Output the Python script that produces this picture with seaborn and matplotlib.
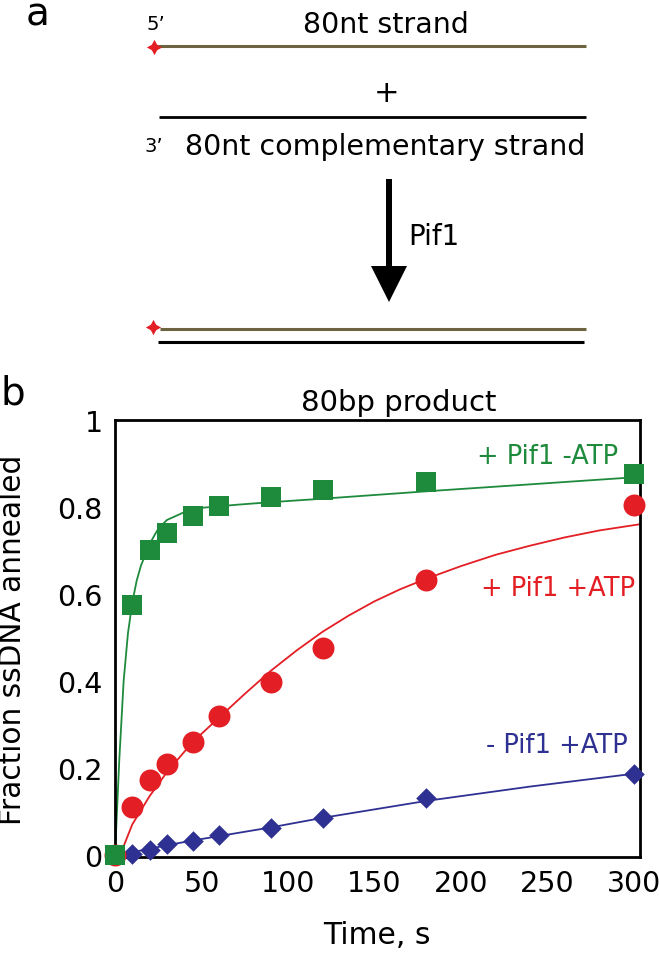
import matplotlib
matplotlib.use("Agg")
import matplotlib.pyplot as plt
import pandas as pd
import seaborn as sns

time_s = [0, 10, 20, 30, 45, 60, 90, 120, 180, 300]
pif1_no_atp = [0, 0.575, 0.70, 0.74, 0.78, 0.803, 0.823, 0.84, 0.858, 0.875]
pif1_atp = [0, 0.11, 0.172, 0.21, 0.26, 0.32, 0.398, 0.476, 0.632, 0.805]
no_pif1_atp = [0, 0.002, 0.01, 0.025, 0.032, 0.045, 0.062, 0.085, 0.131, 0.186]

# Fitted curves
fit_no_atp_t = [0, 2.5, 5, 7.5, 10, 12.5, 15, 20, 25, 30, 40, 50, 70, 90, 120, 180, 240, 303]
fit_no_atp_y = [0, 0.22, 0.40, 0.51, 0.58, 0.63, 0.665, 0.715, 0.75, 0.77, 0.788,
                0.798, 0.805, 0.811, 0.819, 0.836, 0.852, 0.869]
fit_atp_t = [3, 10, 20, 30, 45, 60, 75, 90, 105, 120, 135, 150, 165, 180,
             200, 220, 240, 260, 280, 303]
fit_atp_y = [0, 0.07, 0.135, 0.19, 0.26, 0.315, 0.37, 0.423, 0.47, 0.513, 0.55, 0.583,
             0.611, 0.635, 0.664, 0.69, 0.711, 0.73, 0.746, 0.76]
fit_no_pif1_t = [0, 10, 20, 30, 45, 60, 90, 120, 180, 240, 303]
fit_no_pif1_y = [0, 0.006, 0.014, 0.022, 0.033, 0.043, 0.063, 0.085, 0.124, 0.157, 0.188]

series_labels = ["+ Pif1 -ATP", "+ Pif1 +ATP", "- Pif1 +ATP"]
x_ticks = [0, 50, 100, 150, 200, 250, 300]
y_ticks = [0, 0.2, 0.4, 0.6, 0.8, 1.0]
y_tick_labels = ["0", "0.2", "0.4", "0.6", "0.8", "1"]

green = "#1e8b3c"
red = "#e31e24"
blue = "#2e3192"
strand = "#6e6340"

sns.set_style("white")
plt.rcParams["font.family"] = ["DejaVu Sans"]
plt.rcParams["text.color"] = "black"
plt.rcParams["axes.labelcolor"] = "black"

fig = plt.figure(figsize=(6.59, 9.54), dpi=100)

# ---- panel a: schematic, drawn in pixel coordinates ----
sk = fig.add_axes([0, 0, 1, 1])
sk.set_xlim(0, 659)
sk.set_ylim(954, 0)
sk.axis("off")

sk.text(38, 26, "a", fontsize=28, ha="center", va="baseline")
sk.text(156, 25, "5’", fontsize=14, ha="center", va="center")
sk.text(386, 25, "80nt strand", fontsize=20.5, ha="center", va="center")
sk.plot([156, 586], [47, 47], color=strand, lw=2.2, solid_capstyle="butt")
sk.plot(154, 48, marker=(4, 1, 0), ms=11, color=red, mew=0)
sk.text(387, 93, "+", fontsize=22, ha="center", va="center")
sk.plot([159, 586], [118, 118], color="black", lw=2.0, solid_capstyle="butt")
sk.text(154, 147, "3’", fontsize=14, ha="center", va="center")
sk.text(385, 147, "80nt complementary strand", fontsize=20.5, ha="center", va="center")
sk.arrow(389, 180, 0, 123, width=6, head_width=36, head_length=36,
         length_includes_head=True, color="black", lw=0)
sk.text(408, 237, "Pif1", fontsize=20, ha="left", va="center")
sk.plot([160, 586], [330, 330], color=strand, lw=2.2, solid_capstyle="butt")
sk.plot(153, 328, marker=(4, 1, 0), ms=11, color=red, mew=0)
sk.plot([158, 584], [343, 343], color="black", lw=2.2, solid_capstyle="butt")
sk.text(13, 405, "b", fontsize=28, ha="center", va="baseline")

# ---- panel b: annealing kinetics ----
ax = fig.add_axes([115 / 659, 96 / 954, 525 / 659, 437 / 954])

fits = [(fit_no_pif1_t, fit_no_pif1_y, blue),
        (fit_atp_t, fit_atp_y, red),
        (fit_no_atp_t, fit_no_atp_y, green)]
for ft, fy, c in fits:
    sns.lineplot(x=ft, y=fy, color=c, linewidth=1.3, estimator=None, ax=ax, zorder=2)

points = pd.DataFrame({"time": time_s * 3,
                       "fraction": no_pif1_atp + pif1_atp + pif1_no_atp,
                       "cond": [series_labels[2]] * 10 + [series_labels[1]] * 10
                               + [series_labels[0]] * 10})
styles = {series_labels[2]: ("D", 110, blue),
          series_labels[1]: ("o", 250, red),
          series_labels[0]: ("s", 210, green)}
for cond, (m, s, c) in styles.items():
    sns.scatterplot(data=points[points.cond == cond], x="time", y="fraction",
                    marker=m, s=s, color=c, linewidth=0, ax=ax, zorder=3,
                    clip_on=False, legend=False)

ax.text(250, 0.917, series_labels[0], color=green, fontsize=18.5, ha="center", va="center")
ax.text(256, 0.614, series_labels[1], color=red, fontsize=18.5, ha="center", va="center")
ax.text(255.5, 0.253, series_labels[2], color=blue, fontsize=18.5, ha="center", va="center")

ax.set_xlim(0, 303.5)
ax.set_ylim(-0.005, 1.0)
ax.set_xticks(x_ticks)
ax.set_yticks(y_ticks)
ax.set_yticklabels(y_tick_labels)
ax.tick_params(direction="in", length=11, width=1.6, labelsize=20.5, pad=9,
               color="black", labelcolor="black")
for sp in ax.spines.values():
    sp.set_linewidth(2.0)
    sp.set_color("black")

ax.text(0.541, 1.041, "80bp product", fontsize=21, ha="center", va="center",
        transform=ax.transAxes)
ax.set_xlabel("Time, s", fontsize=21.5, va="center")
ax.xaxis.set_label_coords(0.499, -0.178)
ax.set_ylabel("Fraction ssDNA annealed", fontsize=21.3, va="center")
ax.yaxis.set_label_coords(-0.195, 0.5)

fig.savefig("out.png", dpi=100)
